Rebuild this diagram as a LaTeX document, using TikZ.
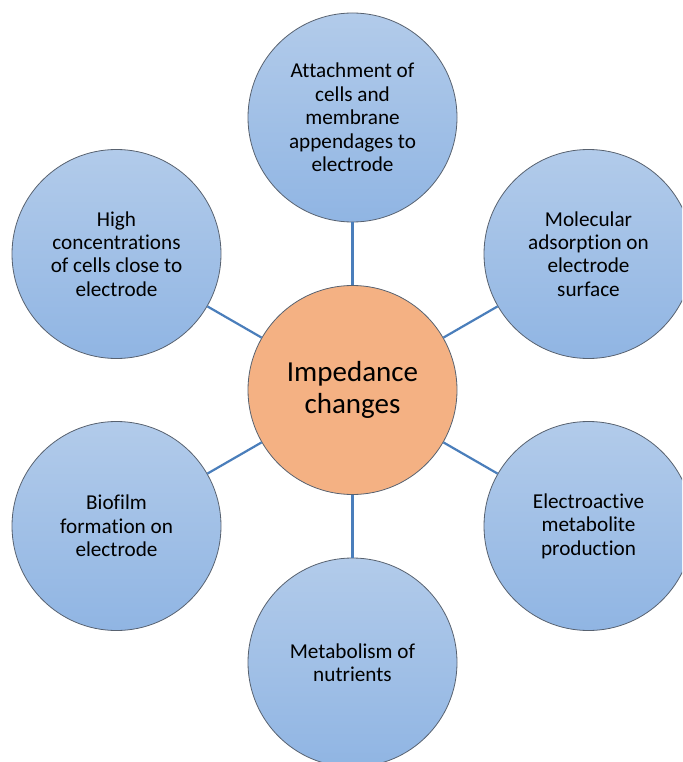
\documentclass[tikz,border=0pt]{standalone}
\usepackage{fontspec}
\setmainfont{Carlito}[Ligatures={NoCommon}]
\definecolor{bubbletop}{RGB}{178,203,234}
\definecolor{bubblebot}{RGB}{144,181,227}
\definecolor{hubfill}{RGB}{244,177,131}
\definecolor{rimline}{RGB}{88,98,112}
\definecolor{linkblue}{RGB}{74,126,187}
\tikzset{
  bubble/.style={circle, draw=rimline, line width=0.8pt, inner sep=0pt,
    minimum size=209pt, top color=bubbletop, bottom color=bubblebot,
    align=center, font=\fontsize{21.2}{23.4}\selectfont, text=black},
  hub/.style={circle, draw=rimline, line width=0.8pt, inner sep=0pt,
    minimum size=209pt, fill=hubfill, align=center,
    font=\fontsize{29}{31.7}\selectfont, text=black},
  link/.style={draw=linkblue, line width=2.2pt}
}
\begin{document}
\begin{tikzpicture}[x=1pt,y=-1pt]
  \clip (0,0) rectangle (682,762);
  \fill[white] (0,0) rectangle (682,762);

  % hub and surrounding bubbles
  \node[hub] (hub) at (352.5,390) {Impedance\\changes};
  \node[bubble] (top) at (352.5,117.5)
    {Attachment of\\cells and\\membrane\\appendages to\\electrode};
  \node[bubble] (ur) at (588.5,254)
    {Molecular\\adsorption on\\electrode\\surface};
  \node[bubble] (lr) at (588.5,526)
    {Electroactive\\metabolite\\production};
  \node[bubble] (bot) at (352.5,662.5)
    {Metabolism of\\nutrients};
  \node[bubble] (ll) at (116.5,526)
    {Biofilm\\formation on\\electrode};
  \node[bubble] (ul) at (116.5,254)
    {High\\concentrations\\of cells close to\\electrode};

  % spokes
  \foreach \n in {top,ur,lr,bot,ll,ul}
    \draw[link] (hub) -- (\n);
\end{tikzpicture}
\end{document}
